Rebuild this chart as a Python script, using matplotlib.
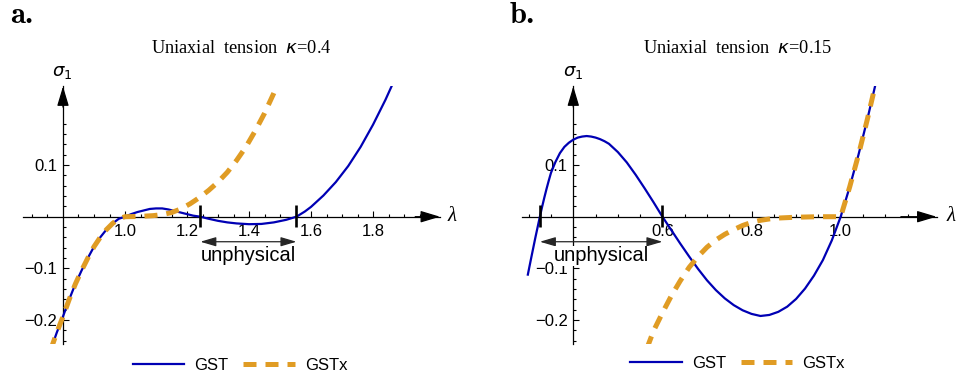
import matplotlib
matplotlib.use("Agg")
import matplotlib.pyplot as plt
from matplotlib.lines import Line2D

W, H = 958, 379

# panel a: kappa = 0.4
lam_a = [0.76, 0.78, 0.80, 0.82, 0.84, 0.86, 0.88, 0.90, 0.92, 0.94, 0.96, 0.98,
         1.00, 1.02, 1.04, 1.06, 1.08, 1.10, 1.12, 1.14, 1.16, 1.18, 1.20, 1.22,
         1.243, 1.27, 1.30, 1.33, 1.36, 1.40, 1.44, 1.48, 1.52, 1.553, 1.58, 1.60,
         1.64, 1.68, 1.72, 1.76, 1.80, 1.84, 1.88]
gst_a = [-0.258, -0.224, -0.193, -0.160, -0.130, -0.104, -0.080, -0.058, -0.040, -0.025,
         -0.013, -0.004, 0.0, 0.005, 0.009, 0.012, 0.015, 0.016, 0.016, 0.014, 0.011,
         0.008, 0.005, 0.002, 0.0, -0.004, -0.008, -0.011, -0.013, -0.0145, -0.014,
         -0.011, -0.006, 0.0, 0.010, 0.019, 0.041, 0.067, 0.098, 0.135, 0.178, 0.226, 0.279]
lam_ax = [0.76, 0.78, 0.80, 0.82, 0.84, 0.86, 0.88, 0.90, 0.92, 0.94, 0.96, 0.98,
          1.00, 1.03, 1.06, 1.09, 1.12, 1.15, 1.18, 1.21, 1.24, 1.27, 1.30, 1.33,
          1.36, 1.39, 1.42, 1.45, 1.48, 1.51]
gstx_a = [-0.258, -0.224, -0.193, -0.160, -0.130, -0.104, -0.080, -0.058, -0.040, -0.025,
          -0.013, -0.004, 0.0, 0.0003, 0.001, 0.002, 0.004, 0.008, 0.015, 0.025, 0.037,
          0.051, 0.067, 0.086, 0.109, 0.135, 0.166, 0.200, 0.239, 0.282]

# panel b: kappa = 0.15
lam_b = [0.298, 0.305, 0.31, 0.315, 0.32, 0.325, 0.33, 0.335, 0.34, 0.345, 0.35, 0.36,
         0.37, 0.38, 0.39, 0.40, 0.41, 0.42, 0.43, 0.44, 0.45, 0.46, 0.47, 0.48, 0.50,
         0.52, 0.54, 0.56, 0.58, 0.60, 0.62, 0.64, 0.66, 0.68, 0.70, 0.72, 0.74, 0.76,
         0.78, 0.80, 0.82, 0.84, 0.86, 0.88, 0.90, 0.92, 0.94, 0.96, 0.98, 1.00, 1.02,
         1.04, 1.06, 1.08]
gst_b = [-0.112, -0.082, -0.061, -0.040, -0.020, 0.0, 0.019, 0.037, 0.054, 0.070, 0.085,
         0.106, 0.123, 0.135, 0.143, 0.149, 0.153, 0.155, 0.156, 0.155, 0.153, 0.150, 0.146,
         0.141, 0.125, 0.105, 0.081, 0.055, 0.028, 0.0, -0.026, -0.052, -0.077, -0.101,
         -0.123, -0.142, -0.158, -0.171, -0.181, -0.188, -0.192, -0.190, -0.184, -0.174,
         -0.159, -0.139, -0.114, -0.084, -0.046, 0.0, 0.057, 0.120, 0.189, 0.263]
lam_bx = [0.565, 0.58, 0.60, 0.62, 0.64, 0.66, 0.68, 0.70, 0.72, 0.74, 0.76, 0.78,
          0.80, 0.82, 0.85, 0.90, 0.95, 1.00, 1.02, 1.04, 1.06, 1.08]
gstx_b = [-0.255, -0.221, -0.186, -0.153, -0.124, -0.098, -0.077, -0.059, -0.045, -0.034,
          -0.025, -0.017, -0.011, -0.007, -0.003, -0.001, 0.0, 0.0, 0.057, 0.120, 0.189, 0.263]

# axis ticks
xticks_a = [1.0, 1.2, 1.4, 1.6, 1.8]
xticks_b = [0.6, 0.8, 1.0]
yticks = [-0.2, -0.1, 0.1]

# unphysical stretch ranges
unphys_a = (1.243, 1.553)
unphys_b = (0.325, 0.6)

BLUE = "#0000b4"
ORANGE = "#e09c24"
SANS = "Liberation Sans"


def px(x, y):
    return x / W, 1 - y / H


def make_axes(fig, box, xlim, ylim, origin, xticks, yticks):
    x0, y0, x1, y1 = box
    ax = fig.add_axes([x0 / W, 1 - y1 / H, (x1 - x0) / W, (y1 - y0) / H])
    ax.set_xlim(xlim)
    ax.set_ylim(ylim)
    ax.patch.set_visible(False)
    for side in ("top", "right"):
        ax.spines[side].set_visible(False)
    ax.spines["left"].set_position(("data", origin))
    ax.spines["bottom"].set_position(("data", 0))
    for side in ("left", "bottom"):
        ax.spines[side].set_linewidth(0.9)

    ax.set_xticks(xticks, labels=["%.1f" % t for t in xticks])
    ax.set_yticks(yticks, labels=["%.1f" % t if t > 0 else "\u2212%.1f" % -t for t in yticks])
    xminor = []
    t = round(xlim[0] / 0.05 + 0.5) * 0.05
    while t < xlim[1] - 0.04:
        if all(abs(t - m) > 1e-6 for m in xticks + [origin]):
            xminor.append(t)
        t = round(t + 0.05, 4)
    yminor = [v / 100 for v in range(-24, 20, 2)
              if v != 0 and all(abs(v / 100 - m) > 1e-6 for m in yticks)]
    ax.set_xticks(xminor, minor=True)
    ax.set_yticks(yminor, minor=True)
    ax.tick_params(which="both", direction="in", width=0.8, labelsize=12)
    ax.tick_params(which="major", length=4.5)
    ax.tick_params(which="minor", length=2.5)
    ax.tick_params(axis="x", pad=5)
    ax.tick_params(axis="y", pad=4)
    for lab in ax.get_xticklabels() + ax.get_yticklabels():
        lab.set_fontfamily(SANS)

    head = dict(arrowstyle="-|>,head_length=1.2,head_width=0.36", color="k",
                lw=0.9, shrinkA=0, shrinkB=0)
    ax.annotate("", xy=(xlim[1], 0), xytext=(xlim[1] - 0.08, 0),
                arrowprops=head, annotation_clip=False)
    ax.annotate("", xy=(origin, ylim[1]), xytext=(origin, ylim[1] - 0.04),
                arrowprops=head, annotation_clip=False)
    return ax


def draw_curves(ax, lam, gst, lamx, gstx):
    ax.plot(lam, gst, color=BLUE, lw=1.6, zorder=3)
    ax.plot(lamx, gstx, color=ORANGE, lw=3.6, ls=(0, (2.6, 1.8)),
            dash_capstyle="butt", zorder=4)


def draw_unphysical(ax, lo, hi, white_bg=False):
    for v in (lo, hi):
        ax.plot([v, v], [-0.020, 0.0226], color="k", lw=1.9, zorder=5,
                solid_capstyle="butt")
    ax.annotate("", xy=(hi, -0.0484), xytext=(lo, -0.0484),
                arrowprops=dict(arrowstyle="<|-|>,head_length=0.95,head_width=0.28",
                                color="0.15", lw=0.9, shrinkA=0, shrinkB=0),
                zorder=5)
    kw = dict(ha="center", va="center", family=SANS, size=14.5, zorder=10)
    if white_bg:
        kw["bbox"] = dict(facecolor="white", edgecolor="none", pad=0.3)
    ax.text((lo + hi) / 2, -0.076, "unphysical", **kw)


def draw_legend(fig, cx, cy):
    handles = [Line2D([], [], color=BLUE, lw=1.6),
               Line2D([], [], color=ORANGE, lw=3.6, ls=(0, (2.6, 1.8)),
                      dash_capstyle="butt")]
    fig.legend(handles, ["GST", "GSTx"], loc="center", bbox_to_anchor=px(cx, cy),
               ncol=2, frameon=False, handlelength=3.1, handletextpad=0.6,
               columnspacing=0.9, prop={"family": SANS, "size": 12})


fig = plt.figure(figsize=(W / 100, H / 100), dpi=100)

ylim = (-0.246, 0.252)
ax_a = make_axes(fig, (23, 86.4, 440, 343.9), (0.671, 2.016), ylim, 0.8, xticks_a, yticks)
draw_curves(ax_a, lam_a, gst_a, lam_ax, gstx_a)
draw_unphysical(ax_a, *unphys_a)

ax_b = make_axes(fig, (521.6, 86.4, 936.5, 343.9), (0.284, 1.215), ylim, 0.4, xticks_b, yticks)
draw_curves(ax_b, lam_b, gst_b, lam_bx, gstx_b)
draw_unphysical(ax_b, *unphys_b, white_bg=True)

# panel letters, titles and axis names
for x, letter in ((10, "a."), (510, "b.")):
    fig.text(*px(x, 23), letter, family="cmb10", size=22, ha="left", va="baseline")
for x, kappa in ((241, "0.4"), (738, "0.15")):
    fig.text(*px(x, 53), "Uniaxial  tension  $\\kappa$=" + kappa, family="Liberation Serif",
             size=13.2, ha="center", va="baseline")
for x in (62, 573):
    fig.text(*px(x, 72), "$\\sigma_1$", size=13, ha="center", va="center")
for x in (448, 947):
    fig.text(*px(x, 216), "λ", family="Liberation Serif", style="italic", size=15,
             ha="left", va="center")

draw_legend(fig, 240, 365)
draw_legend(fig, 737.5, 363)

fig.savefig("out.png", dpi=100)
